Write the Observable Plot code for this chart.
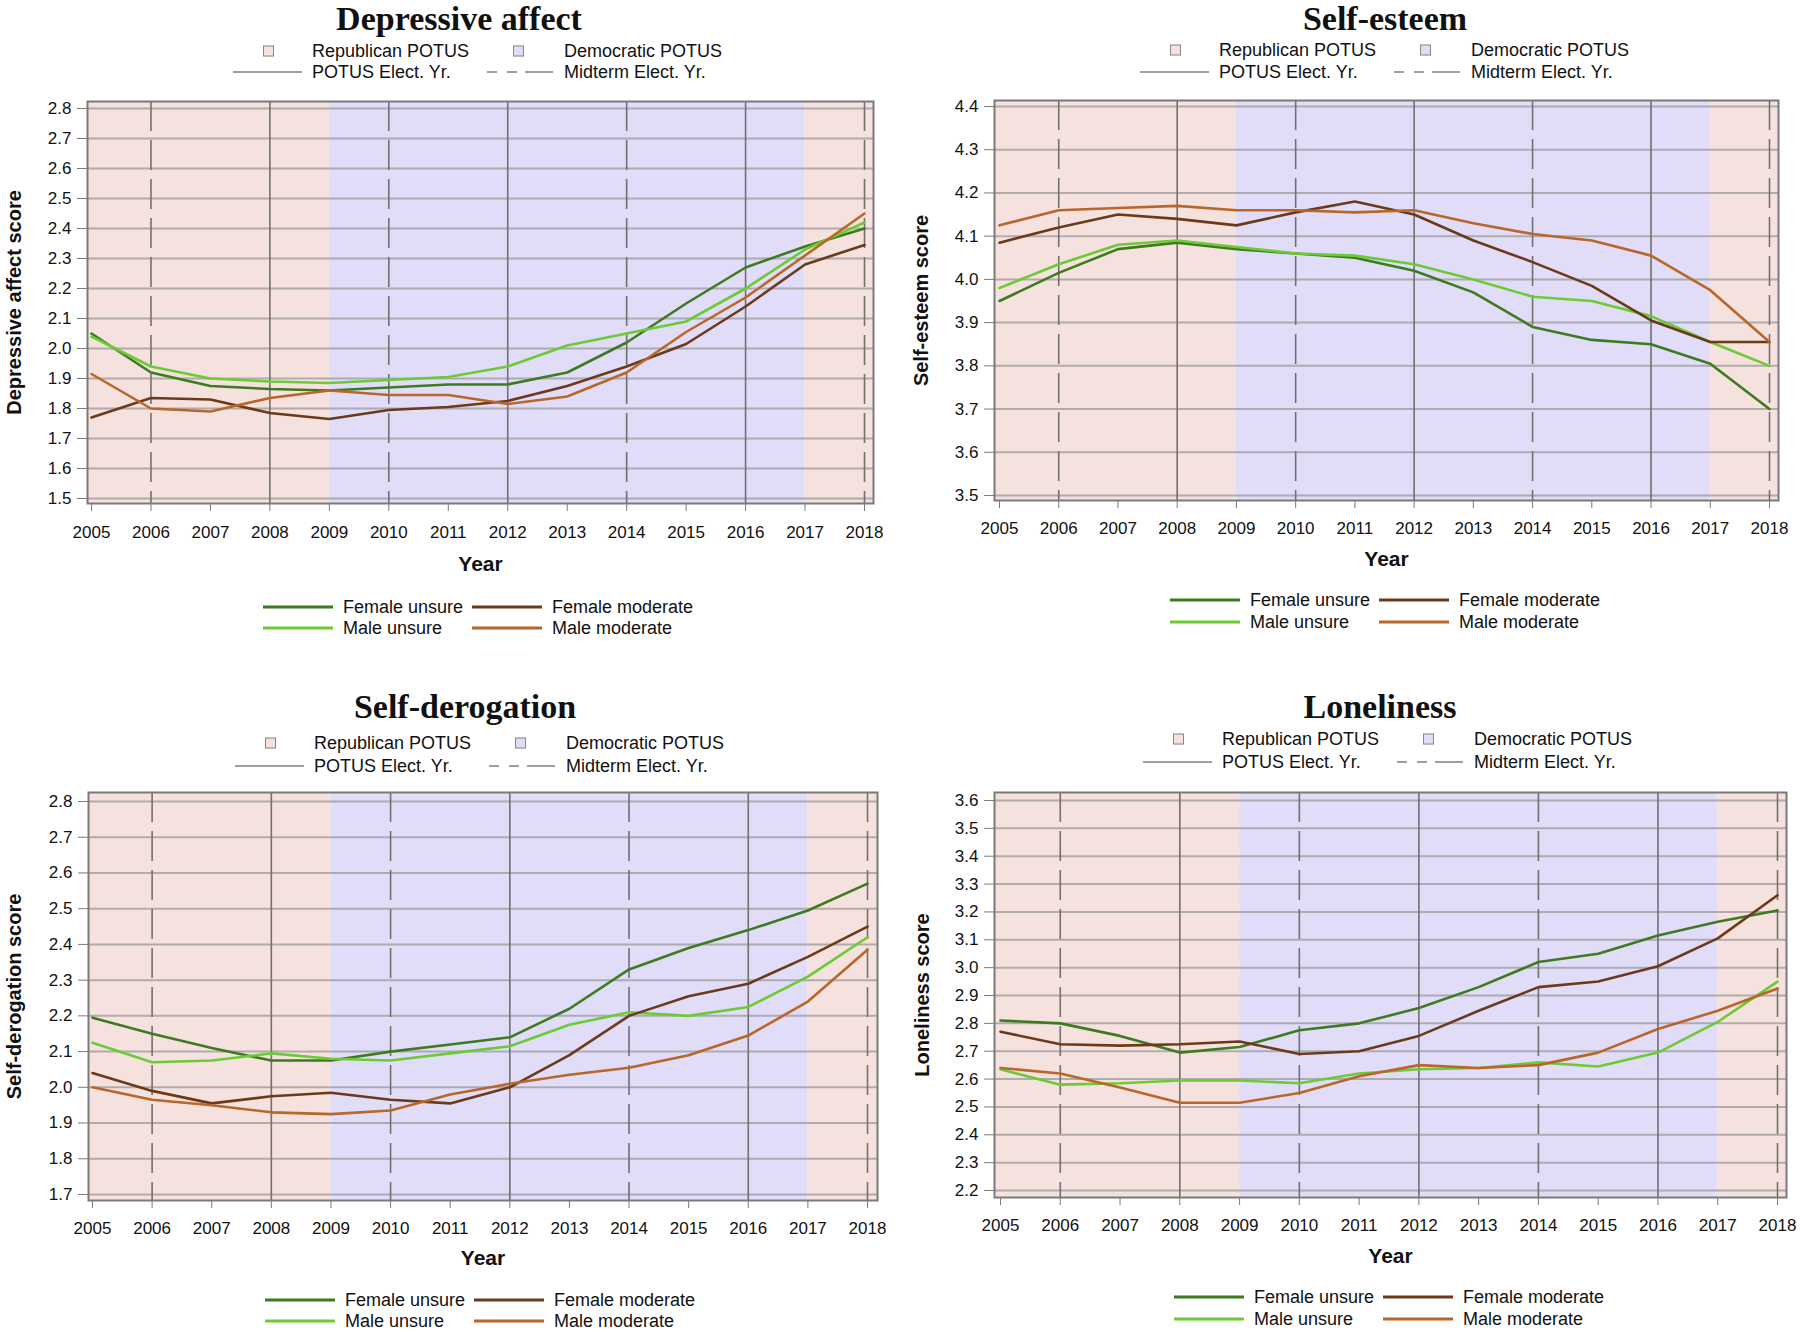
<!DOCTYPE html>
<html><head><meta charset="utf-8">
<script src="https://cdn.jsdelivr.net/npm/d3@7"></script>
<script src="https://cdn.jsdelivr.net/npm/@observablehq/plot@0.6"></script>
<style>
body{margin:0;background:#fff;}
#root{position:relative;width:1800px;height:1332px;overflow:hidden;font-family:"Liberation Sans",Arial,sans-serif;color:#111;}
.title{position:absolute;font-family:"Liberation Serif","Times New Roman",serif;font-weight:bold;font-size:34px;line-height:1;transform:translate(-50%,-50%);white-space:nowrap;}
.lg{position:absolute;font-size:18px;line-height:1;white-space:nowrap;transform:translateY(-50%);}
.sw{position:absolute;width:9px;height:9px;border:1px solid #888;transform:translateY(-50%);}
.ln{position:absolute;height:0;border-top-style:solid;transform:translateY(-50%);}
.plotwrap{position:absolute;}
</style></head><body><div id="root"></div>
<script>
// ---------- data ----------
const years = [2005,2006,2007,2008,2009,2010,2011,2012,2013,2014,2015,2016,2017,2018];
const seriesNames = ["Female unsure","Male unsure","Female moderate","Male moderate"];
const seriesColors = ["#3e7a1f","#6acb35","#6b3a1a","#b8662a"];
const partyNames = ["Republican POTUS","Democratic POTUS"];
const partyColors = ["#f5e2df","#e1ddf9"];
const presidencies = [
  {party:"Republican POTUS", start:2001, end:2009},
  {party:"Democratic POTUS", start:2009, end:2017},
  {party:"Republican POTUS", start:2017, end:2021}
];
const potusElectionYears = [2008,2012,2016];
const midtermElectionYears = [2006,2010,2014,2018];

// Depressive affect
const depressiveTicks = [1.5,1.6,1.7,1.8,1.9,2.0,2.1,2.2,2.3,2.4,2.5,2.6,2.7,2.8];
const depressiveFemaleUnsure   = [2.05,1.92,1.875,1.865,1.86,1.87,1.88,1.88,1.92,2.02,2.15,2.27,2.34,2.40];
const depressiveMaleUnsure     = [2.04,1.94,1.90,1.89,1.885,1.895,1.905,1.94,2.01,2.05,2.09,2.20,2.33,2.42];
const depressiveFemaleModerate = [1.77,1.835,1.83,1.785,1.765,1.795,1.805,1.825,1.875,1.94,2.015,2.14,2.28,2.345];
const depressiveMaleModerate   = [1.915,1.80,1.79,1.835,1.86,1.845,1.845,1.815,1.84,1.92,2.055,2.17,2.31,2.45];

// Self-esteem
const esteemTicks = [3.5,3.6,3.7,3.8,3.9,4.0,4.1,4.2,4.3,4.4];
const esteemFemaleUnsure   = [3.95,4.015,4.07,4.085,4.07,4.06,4.05,4.02,3.97,3.89,3.86,3.85,3.805,3.70];
const esteemMaleUnsure     = [3.98,4.035,4.08,4.09,4.075,4.06,4.055,4.035,4.00,3.96,3.95,3.915,3.855,3.80];
const esteemFemaleModerate = [4.085,4.12,4.15,4.14,4.125,4.155,4.18,4.15,4.09,4.04,3.985,3.905,3.855,3.855];
const esteemMaleModerate   = [4.125,4.16,4.165,4.17,4.16,4.16,4.155,4.16,4.13,4.105,4.09,4.055,3.975,3.855];

// Self-derogation
const derogationTicks = [1.7,1.8,1.9,2.0,2.1,2.2,2.3,2.4,2.5,2.6,2.7,2.8];
const derogationFemaleUnsure   = [2.195,2.15,2.11,2.075,2.075,2.10,2.12,2.14,2.22,2.33,2.39,2.44,2.495,2.57];
const derogationMaleUnsure     = [2.125,2.07,2.075,2.095,2.08,2.075,2.095,2.115,2.175,2.21,2.20,2.225,2.31,2.42];
const derogationFemaleModerate = [2.04,1.99,1.955,1.975,1.985,1.965,1.955,2.00,2.09,2.20,2.255,2.29,2.365,2.45];
const derogationMaleModerate   = [2.00,1.965,1.95,1.93,1.925,1.935,1.98,2.01,2.035,2.055,2.09,2.145,2.24,2.385];

// Loneliness
const lonelinessTicks = [2.2,2.3,2.4,2.5,2.6,2.7,2.8,2.9,3.0,3.1,3.2,3.3,3.4,3.5,3.6];
const lonelinessFemaleUnsure   = [2.81,2.80,2.755,2.695,2.715,2.775,2.80,2.855,2.93,3.02,3.05,3.115,3.165,3.205];
const lonelinessMaleUnsure     = [2.635,2.58,2.585,2.595,2.595,2.585,2.62,2.635,2.64,2.66,2.645,2.695,2.805,2.95];
const lonelinessFemaleModerate = [2.77,2.725,2.72,2.725,2.735,2.69,2.70,2.755,2.845,2.93,2.95,3.005,3.105,3.26];
const lonelinessMaleModerate   = [2.64,2.62,2.57,2.515,2.515,2.55,2.61,2.65,2.64,2.65,2.695,2.78,2.845,2.925];

// ---------- layout ----------
const root = document.getElementById("root");
const FONT = "Liberation Sans, Arial, sans-serif";

function rows(series) {
  return series.flatMap((vals, i) => vals.map((v, j) => ({year: years[j], value: v, series: seriesNames[i]})));
}

function el(cls, style, text) {
  const d = document.createElement("div");
  d.className = cls;
  Object.assign(d.style, style);
  if (text != null) d.textContent = text;
  root.appendChild(d);
  return d;
}

function panel(cfg) {
  const {left, top, width, height, frame, x05, x18, yHiPx, yLoPx, ticks, ylabel, title, titlePos,
         legendDx, legendY, seriesDx, seriesY, yLabelDx, yearDy, tickPadX} = cfg;
  const [fx1, fy1, fx2, fy2] = frame;
  const data = rows(cfg.series);
  const chart = Plot.plot({
    width, height,
    marginLeft: fx1 - left, marginRight: left + width - fx2,
    marginTop: fy1 - top, marginBottom: top + height - fy2,
    insetLeft: x05 - fx1, insetRight: fx2 - x18,
    insetTop: yHiPx - fy1, insetBottom: fy2 - yLoPx,
    style: {fontFamily: FONT, fontSize: "17px", color: "#111", background: "transparent", overflow: "visible"},
    x: {domain: [years[0], years[years.length - 1]], label: null},
    y: {domain: [ticks[0], ticks[ticks.length - 1]], label: null},
    color: {domain: [...seriesNames, ...partyNames], range: [...seriesColors, ...partyColors]},
    marks: [
      Plot.rect(presidencies, {x1: "start", x2: "end", fill: "party", clip: true}),
      Plot.ruleY(ticks, {stroke: "#9a9a9a", strokeWidth: 2, strokeOpacity: 0.75}),
      Plot.ruleX(potusElectionYears, {stroke: "#707070", strokeWidth: 1.6}),
      Plot.ruleX(midtermElectionYears, {stroke: "#707070", strokeWidth: 1.6, strokeDasharray: "30,9"}),
      Plot.line(data, {x: "year", y: "value", z: "series", stroke: "series", strokeWidth: 2.6}),
      Plot.frame({stroke: "#7a7a7a", strokeWidth: 2}),
      Plot.axisX({ticks: years, tickFormat: d => String(d), tickSize: 8, tickPadding: tickPadX, stroke: "#7a7a7a", fill: "#111", fontWeight: 500, label: null}),
      Plot.axisY({ticks, tickFormat: d => d.toFixed(1), tickSize: 10, tickPadding: 6, stroke: "#7a7a7a", fill: "#111", fontWeight: 500, label: null}),
      Plot.text(["Year"], {frameAnchor: "bottom", dy: yearDy, fontWeight: "bold", fontSize: 21, fill: "#111"}),
      Plot.text([ylabel], {frameAnchor: "left", dx: yLabelDx, rotate: -90, textAnchor: "middle", lineAnchor: "middle", fontWeight: "bold", fontSize: 20, fill: "#111"})
    ]
  });
  const wrap = document.createElement("div");
  wrap.className = "plotwrap";
  wrap.style.left = left + "px";
  wrap.style.top = top + "px";
  wrap.appendChild(chart);
  root.appendChild(wrap);

  // title
  el("title", {left: titlePos[0] + "px", top: titlePos[1] + "px"}, title);

  // top legend (party shading and election-year lines)
  const [r1, r2] = legendY;
  el("sw", {left: (263 + legendDx) + "px", top: r1 + "px", background: partyColors[0]});
  el("lg", {left: (312 + legendDx) + "px", top: r1 + "px"}, partyNames[0]);
  el("sw", {left: (513 + legendDx) + "px", top: r1 + "px", background: partyColors[1]});
  el("lg", {left: (564 + legendDx) + "px", top: r1 + "px"}, partyNames[1]);
  el("ln", {left: (233 + legendDx) + "px", top: r2 + "px", width: "69px", borderTopWidth: "2px", borderTopColor: "#a0a0a0"});
  el("lg", {left: (312 + legendDx) + "px", top: r2 + "px"}, "POTUS Elect. Yr.");
  [[487, 10], [507, 10], [525, 28]].forEach(([x, w]) =>
    el("ln", {left: (x + legendDx) + "px", top: r2 + "px", width: w + "px", borderTopWidth: "2px", borderTopColor: "#a0a0a0"}));
  el("lg", {left: (564 + legendDx) + "px", top: r2 + "px"}, "Midterm Elect. Yr.");

  // series legend
  const pos = [[263, 343, 0], [263, 343, 1], [472, 552, 0], [472, 552, 1]];
  seriesNames.forEach((name, i) => {
    const [lx, tx, row] = pos[i];
    const y = seriesY[row];
    el("ln", {left: (lx + seriesDx) + "px", top: y + "px", width: "70px", borderTopWidth: "3px", borderTopColor: seriesColors[i]});
    el("lg", {left: (tx + seriesDx) + "px", top: y + "px"}, name);
  });
}

panel({
  title: "Depressive affect", ylabel: "Depressive affect score", ticks: depressiveTicks,
  series: [depressiveFemaleUnsure, depressiveMaleUnsure, depressiveFemaleModerate, depressiveMaleModerate],
  left: 0, top: 85, width: 900, height: 495,
  frame: [87, 101, 873, 503], x05: 91, x18: 864, yHiPx: 108, yLoPx: 498,
  titlePos: [459, 19], legendDx: 0, legendY: [51, 72], seriesDx: 0, seriesY: [607, 628],
  yLabelDx: -73, yearDy: 67, tickPadX: 14
});
panel({
  title: "Self-esteem", ylabel: "Self-esteem score", ticks: esteemTicks,
  series: [esteemFemaleUnsure, esteemMaleUnsure, esteemFemaleModerate, esteemMaleModerate],
  left: 900, top: 85, width: 900, height: 495,
  frame: [994, 100, 1778, 500], x05: 999, x18: 1769, yHiPx: 106, yLoPx: 495,
  titlePos: [1385, 19], legendDx: 907, legendY: [50, 72], seriesDx: 907, seriesY: [600, 622],
  yLabelDx: -73, yearDy: 65, tickPadX: 13
});
panel({
  title: "Self-derogation", ylabel: "Self-derogation score", ticks: derogationTicks,
  series: [derogationFemaleUnsure, derogationMaleUnsure, derogationFemaleModerate, derogationMaleModerate],
  left: 0, top: 778, width: 900, height: 500,
  frame: [88, 792, 877, 1200], x05: 92, x18: 867, yHiPx: 801, yLoPx: 1194,
  titlePos: [465, 707], legendDx: 2, legendY: [743, 766], seriesDx: 2, seriesY: [1300, 1321],
  yLabelDx: -74, yearDy: 64, tickPadX: 13
});
panel({
  title: "Loneliness", ylabel: "Loneliness score", ticks: lonelinessTicks,
  series: [lonelinessFemaleUnsure, lonelinessMaleUnsure, lonelinessFemaleModerate, lonelinessMaleModerate],
  left: 900, top: 778, width: 900, height: 500,
  frame: [994, 792, 1786, 1197], x05: 1000, x18: 1777, yHiPx: 800, yLoPx: 1190,
  titlePos: [1380, 707], legendDx: 910, legendY: [739, 762], seriesDx: 911, seriesY: [1297, 1319],
  yLabelDx: -72, yearDy: 65, tickPadX: 13
});
</script></body></html>
